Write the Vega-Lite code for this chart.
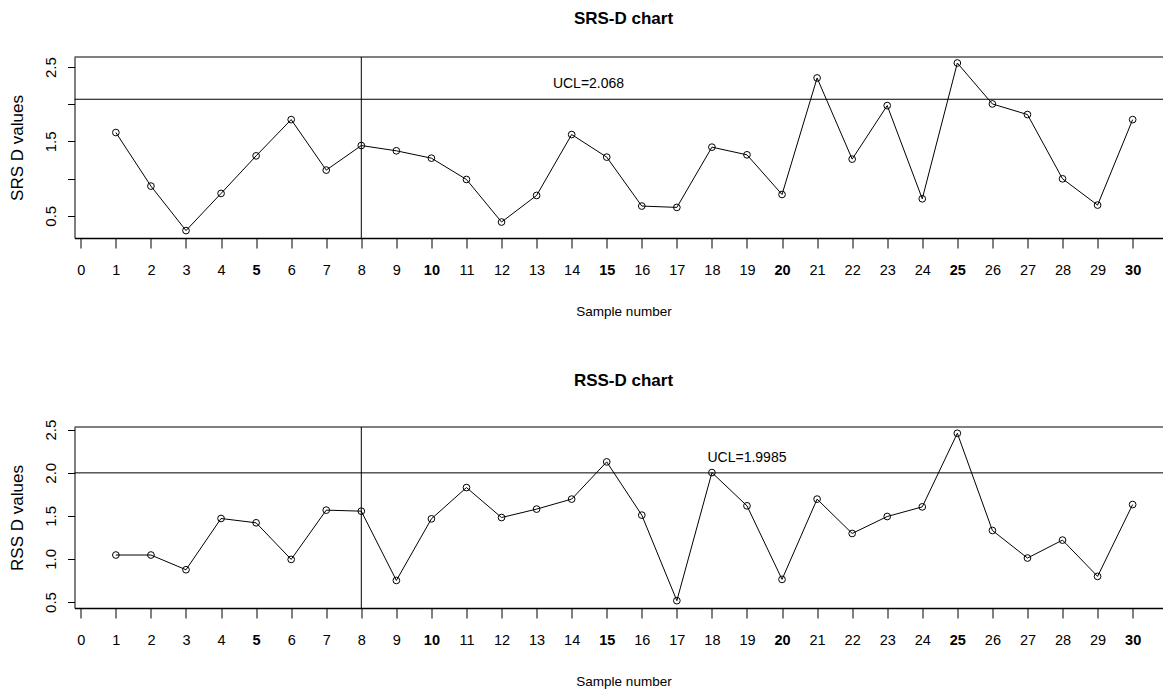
{
  "$schema": "https://vega.github.io/schema/vega-lite/v6.json",
  "autosize": {"type": "pad"},
  "padding": {"left": 8.5, "top": 9, "right": 0, "bottom": 0},
  "background": "white",
  "bounds": "flush",
  "spacing": 189,
  "config": {
    "view": {"stroke": null},
    "axis": {"grid": false, "domainColor": "black", "tickColor": "black", "labelColor": "black", "titleColor": "black", "labelFontWeight": "normal", "titleFontWeight": "normal"}
  },
  "datasets": {
    "srs": [
      {"sample": 1, "d": 1.62}, {"sample": 2, "d": 0.899}, {"sample": 3, "d": 0.30}, {"sample": 4, "d": 0.80},
      {"sample": 5, "d": 1.306}, {"sample": 6, "d": 1.794}, {"sample": 7, "d": 1.114}, {"sample": 8, "d": 1.445},
      {"sample": 9, "d": 1.374}, {"sample": 10, "d": 1.275}, {"sample": 11, "d": 0.988}, {"sample": 12, "d": 0.415},
      {"sample": 13, "d": 0.773}, {"sample": 14, "d": 1.593}, {"sample": 15, "d": 1.289}, {"sample": 16, "d": 0.630},
      {"sample": 17, "d": 0.612}, {"sample": 18, "d": 1.423}, {"sample": 19, "d": 1.320}, {"sample": 20, "d": 0.786},
      {"sample": 21, "d": 2.355}, {"sample": 22, "d": 1.262}, {"sample": 23, "d": 1.983}, {"sample": 24, "d": 0.728},
      {"sample": 25, "d": 2.556}, {"sample": 26, "d": 2.005}, {"sample": 27, "d": 1.862}, {"sample": 28, "d": 0.997},
      {"sample": 29, "d": 0.643}, {"sample": 30, "d": 1.794}
    ],
    "rss": [
      {"sample": 1, "d": 1.045}, {"sample": 2, "d": 1.045}, {"sample": 3, "d": 0.874}, {"sample": 4, "d": 1.469},
      {"sample": 5, "d": 1.419}, {"sample": 6, "d": 0.994}, {"sample": 7, "d": 1.566}, {"sample": 8, "d": 1.554},
      {"sample": 9, "d": 0.750}, {"sample": 10, "d": 1.465}, {"sample": 11, "d": 1.828}, {"sample": 12, "d": 1.480},
      {"sample": 13, "d": 1.578}, {"sample": 14, "d": 1.694}, {"sample": 15, "d": 2.126}, {"sample": 16, "d": 1.508},
      {"sample": 17, "d": 0.515}, {"sample": 18, "d": 2.002}, {"sample": 19, "d": 1.616}, {"sample": 20, "d": 0.762},
      {"sample": 21, "d": 1.694}, {"sample": 22, "d": 1.295}, {"sample": 23, "d": 1.492}, {"sample": 24, "d": 1.604},
      {"sample": 25, "d": 2.458}, {"sample": 26, "d": 1.330}, {"sample": 27, "d": 1.010}, {"sample": 28, "d": 1.218},
      {"sample": 29, "d": 0.797}, {"sample": 30, "d": 1.631}
    ],
    "ucl1": [{"sample": 14.48, "d": 2.274, "label": "UCL=2.068", "ucl": 2.068}],
    "ucl2": [{"sample": 19, "d": 2.172, "label": "UCL=1.9985", "ucl": 1.9985}]
  },
  "vconcat": [
    {
      "width": 1089,
      "height": 181,
      "title": {"text": "SRS-D chart", "font": "Liberation Sans, Arial", "fontSize": 17, "fontWeight": "bold", "color": "black", "dx": 4.5, "offset": 21, "baseline": "middle"},
      "encoding": {
        "x": {"field": "sample", "type": "quantitative", "scale": {"domain": [-0.18, 30.88], "nice": false, "zero": false},
          "axis": {"values": [0,1,2,3,4,5,6,7,8,9,10,11,12,13,14,15,16,17,18,19,20,21,22,23,24,25,26,27,28,29,30],
            "title": "Sample number", "titleFont": "Liberation Sans, Arial", "titleFontSize": 13.5,
            "titleX": 549, "titleY": 73.7, "titleAlign": "center", "titleBaseline": "middle",
            "labelFont": "Liberation Sans, Arial", "labelFontSize": 14.5, "labelBaseline": "middle", "labelPadding": 22.7,
            "labelFontWeight": {"condition": {"test": "datum.value % 5 === 0 && datum.value > 0", "value": "bold"}, "value": "normal"},
            "tickSize": 10, "domainWidth": 1.5, "labelOverlap": false, "labelFlush": false}},
        "y": {"field": "d", "type": "quantitative", "scale": {"domain": [0.2, 2.637], "nice": false, "zero": false},
          "axis": {"values": [0.5, 1, 1.5, 2, 2.5], "format": ".1f", "labelExpr": "datum.value == 1 || datum.value == 2 ? '' : datum.label",
            "title": "SRS D values", "titleFont": "Liberation Sans, Arial", "titleFontSize": 17, "titleAngle": -90,
            "titleX": -57, "titleY": 90.5, "titleAlign": "center", "titleBaseline": "middle",
            "labelFont": "Liberation Sans, Arial", "labelFontSize": 15, "labelAngle": -90, "labelAlign": "center", "labelBaseline": "middle", "labelPadding": 17,
            "tickSize": 7, "labelOverlap": false}}
      },
      "layer": [
        {"data": {"name": "srs"}, "mark": {"type": "line", "color": "black", "strokeWidth": 1}},
        {"data": {"name": "srs"}, "mark": {"type": "point", "shape": "circle", "filled": false, "color": "black", "strokeWidth": 1, "size": 45, "opacity": 1}},
        {"data": {"name": "ucl1"}, "mark": {"type": "rule", "color": "black", "strokeWidth": 1}, "encoding": {"y": {"field": "ucl", "type": "quantitative"}, "x": null}},
        {"data": {"name": "ucl1"}, "mark": {"type": "rule", "color": "black", "strokeWidth": 1}, "encoding": {"x": {"datum": 8}, "y": null}},
        {"data": {"name": "ucl1"}, "mark": {"type": "rule", "color": "black", "strokeWidth": 1}, "encoding": {"y": {"datum": 2.637}, "x": null}},
        {"data": {"name": "ucl1"}, "mark": {"type": "text", "font": "Liberation Sans, Arial", "fontSize": 14, "color": "black", "align": "center", "baseline": "middle"}, "encoding": {"text": {"field": "label"}}}
      ]
    },
    {
      "width": 1089,
      "height": 181,
      "title": {"text": "RSS-D chart", "font": "Liberation Sans, Arial", "fontSize": 17, "fontWeight": "bold", "color": "black", "dx": 4.5, "offset": 21, "baseline": "middle"},
      "encoding": {
        "x": {"field": "sample", "type": "quantitative", "scale": {"domain": [-0.18, 30.88], "nice": false, "zero": false},
          "axis": {"values": [0,1,2,3,4,5,6,7,8,9,10,11,12,13,14,15,16,17,18,19,20,21,22,23,24,25,26,27,28,29,30],
            "title": "Sample number", "titleFont": "Liberation Sans, Arial", "titleFontSize": 13.5,
            "titleX": 549, "titleY": 73.7, "titleAlign": "center", "titleBaseline": "middle",
            "labelFont": "Liberation Sans, Arial", "labelFontSize": 14.5, "labelBaseline": "middle", "labelPadding": 22.7,
            "labelFontWeight": {"condition": {"test": "datum.value % 5 === 0 && datum.value > 0", "value": "bold"}, "value": "normal"},
            "tickSize": 10, "domainWidth": 1.5, "labelOverlap": false, "labelFlush": false}},
        "y": {"field": "d", "type": "quantitative", "scale": {"domain": [0.43, 2.531], "nice": false, "zero": false},
          "axis": {"values": [0.5, 1, 1.5, 2, 2.5], "format": ".1f",
            "title": "RSS D values", "titleFont": "Liberation Sans, Arial", "titleFontSize": 17, "titleAngle": -90,
            "titleX": -57, "titleY": 90.5, "titleAlign": "center", "titleBaseline": "middle",
            "labelFont": "Liberation Sans, Arial", "labelFontSize": 15, "labelAngle": -90, "labelAlign": "center", "labelBaseline": "middle", "labelPadding": 17,
            "tickSize": 7, "labelOverlap": false}}
      },
      "layer": [
        {"data": {"name": "rss"}, "mark": {"type": "line", "color": "black", "strokeWidth": 1}},
        {"data": {"name": "rss"}, "mark": {"type": "point", "shape": "circle", "filled": false, "color": "black", "strokeWidth": 1, "size": 45, "opacity": 1}},
        {"data": {"name": "ucl2"}, "mark": {"type": "rule", "color": "black", "strokeWidth": 1}, "encoding": {"y": {"field": "ucl", "type": "quantitative"}, "x": null}},
        {"data": {"name": "ucl2"}, "mark": {"type": "rule", "color": "black", "strokeWidth": 1}, "encoding": {"x": {"datum": 8}, "y": null}},
        {"data": {"name": "ucl2"}, "mark": {"type": "rule", "color": "black", "strokeWidth": 1}, "encoding": {"y": {"datum": 2.531}, "x": null}},
        {"data": {"name": "ucl2"}, "mark": {"type": "text", "font": "Liberation Sans, Arial", "fontSize": 14, "color": "black", "align": "center", "baseline": "middle"}, "encoding": {"text": {"field": "label"}}}
      ]
    }
  ]
}
